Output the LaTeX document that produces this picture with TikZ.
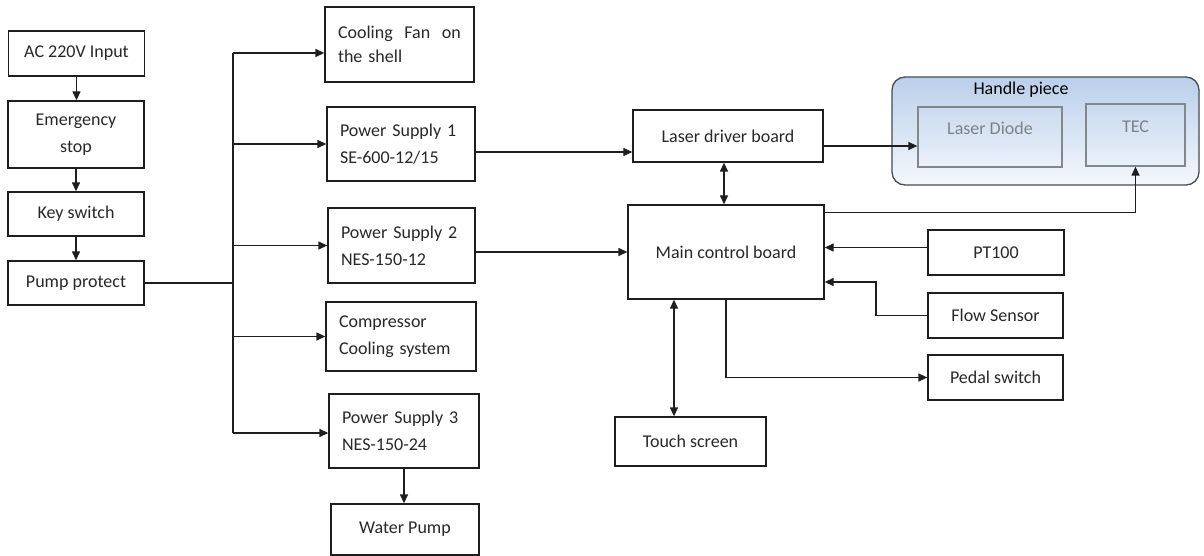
\documentclass[tikz,border=0pt]{standalone}
\usepackage{fontspec}
\setmainfont{Carlito}
\usetikzlibrary{arrows.meta}
\definecolor{lineC}{RGB}{30,30,30}
\definecolor{hpTop}{RGB}{186,207,234}
\definecolor{hpBot}{RGB}{244,248,253}
\definecolor{hpEdge}{RGB}{70,76,84}
\definecolor{grayEdge}{RGB}{130,135,140}
\definecolor{grayText}{RGB}{125,130,135}
\definecolor{txt}{RGB}{40,40,40}
\begin{document}
\begin{tikzpicture}[x=1pt,y=-1pt,
  box/.style={draw=lineC,line width=1.3pt,rectangle,inner sep=0pt,text=txt,
    font=\fontsize{18}{27}\selectfont},
  lbox/.style={box,align=left},
  gbox/.style={draw=grayEdge,line width=1.3pt,rectangle,inner sep=0pt,text=grayText,
    font=\fontsize{18}{27}\selectfont,text depth=17pt},
  conn/.style={draw=lineC,line width=1.3pt},
  arr/.style={conn,-{Triangle[length=9pt,width=8pt]}},
  darr/.style={conn,{Triangle[length=9pt,width=8pt]}-{Triangle[length=9pt,width=8pt]}}]
\useasboundingbox (0,0) rectangle (1204,556);
\fill[white] (0,0) rectangle (1204,556);

% left column
\node[box,minimum width=136pt,minimum height=45pt] (ac) at (76.5,53.5) {AC 220V Input};
\node[box,minimum width=136pt,minimum height=67pt,align=center] (em) at (76,134.5) {Emergency\\stop};
\node[box,minimum width=136pt,minimum height=44pt] (ks) at (76,214) {Key switch};
\node[box,minimum width=136pt,minimum height=44pt] (pp) at (76,283) {Pump protect};

\draw[arr] (ac.south) -- (ac.south |- em.north);
\draw[arr] (em.south) -- (em.south |- ks.north);
\draw[arr] (ks.south) -- (ks.south |- pp.north);

% middle column
\node[lbox,minimum width=149pt,minimum height=75pt,text width=123pt,font=\fontsize{18}{24}\selectfont] (fan) at (399.5,44.5) {Cooling\hfill Fan\hfill on\\the shell};
\node[lbox,minimum width=148pt,minimum height=74pt,text width=122pt] (ps1) at (401,144) {Power Supply 1\\SE-600-12/15};
\node[lbox,minimum width=147pt,minimum height=75pt,text width=121pt] (ps2) at (401.5,245.5) {Power Supply 2\\NES-150-12};
\node[lbox,minimum width=150pt,minimum height=69pt,text width=124pt] (cmp) at (401,336.5) {Compressor\\Cooling system};
\node[lbox,minimum width=150pt,minimum height=74pt,text width=124pt] (ps3) at (404,431) {Power Supply 3\\NES-150-24};
\node[box,minimum width=148pt,minimum height=51pt] (wp) at (405,529.5) {Water Pump};

% bus
\coordinate (bt) at (233,53);
\coordinate (bb) at (233,433);
\draw[conn] (pp.east) -- (pp.east -| bt);
\draw[conn] (bt) -- (bb);
\draw[arr] (bt) -- (bt -| fan.west);
\draw[arr] (bt |- ps1.west) -- (ps1.west);
\draw[arr] (bt |- ps2.west) -- (ps2.west);
\draw[arr] (bt |- cmp.west) -- (cmp.west);
\draw[arr] (bb) -- (bb -| ps3.west);
\draw[arr] (ps3.south) -- (ps3.south |- wp.north);

% boards
\node[box,minimum width=190pt,minimum height=52pt] (ldb) at (728,136) {Laser driver board};
\node[box,minimum width=196pt,minimum height=94pt] (mcb) at (726,252) {Main control board};
\node[box,minimum width=151pt,minimum height=49pt] (ts) at (690.5,441.5) {Touch screen};
\node[box,minimum width=136pt,minimum height=45pt] (pt) at (996,252.5) {PT100};
\node[box,minimum width=135pt,minimum height=45pt] (fs) at (995.5,315.5) {Flow Sensor};
\node[box,minimum width=135pt,minimum height=45pt] (ped) at (995.5,377.5) {Pedal switch};

% handle piece
\node[draw=hpEdge,line width=1.3pt,rounded corners=13pt,top color=hpTop,bottom color=hpBot,
  minimum width=307pt,minimum height=108pt,inner sep=0pt] (hp) at (1045.5,131) {};
\node[text=black,font=\fontsize{18}{21}\selectfont,inner sep=0pt] (hpl) at (1021,90) {Handle piece};
\node[gbox,minimum width=144pt,minimum height=60pt] (ld) at (990,137) {Laser Diode};
\node[gbox,minimum width=99pt,minimum height=62pt] (tec) at (1135.5,135) {TEC};

% connectors
\coordinate (p1) at ([yshift=-8pt]ps1.east);
\draw[arr] (p1) -- (p1 -| ldb.west);
\draw[arr] (ps2.east |- mcb.west) -- (mcb.west);
\coordinate (p2) at ([yshift=-10pt]ldb.east);
\draw[arr] (p2) -- (p2 -| ld.west);
\draw[darr] (ldb.south -| 724,0) -- (mcb.north -| 724,0);
\coordinate (p3) at ([yshift=-8pt]mcb.north east);
\draw[arr] (p3) -| (tec.south);
\coordinate (p4) at ([yshift=5pt]pt.west);
\draw[arr] (p4) -- (p4 -| mcb.east);
\coordinate (fk) at (876,282);
\draw[arr] (fs.west) -| (fk) -- (fk -| mcb.east);
\draw[arr] (mcb.south) |- (ped.west);
\coordinate (tsx) at (674,0);
\draw[darr] (mcb.south -| tsx) -- (ts.north -| tsx);
\end{tikzpicture}
\end{document}
